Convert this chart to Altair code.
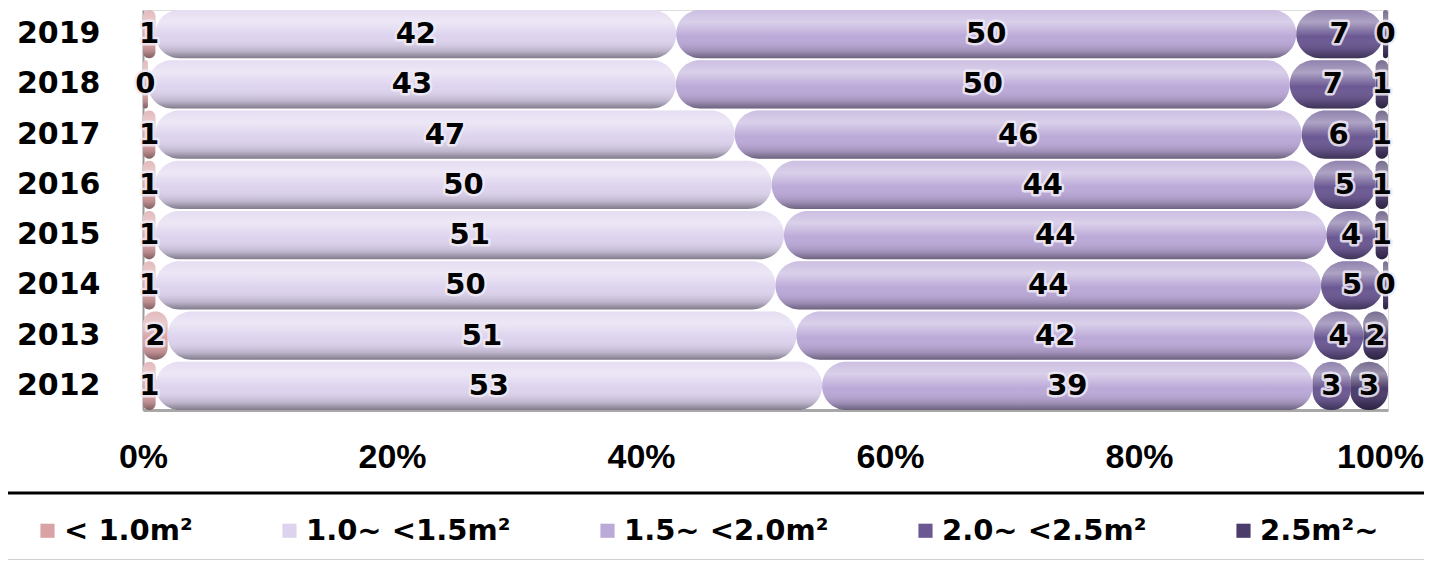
import altair as alt
import pandas as pd

years = ["2019", "2018", "2017", "2016", "2015", "2014", "2013", "2012"]
cats = ["< 1.0m²", "1.0~ <1.5m²", "1.5~ <2.0m²", "2.0~ <2.5m²", "2.5m²~"]
lt10 = [1, 0.4, 1, 1, 1, 1, 2, 1]
r10_15 = [42, 43, 47, 50, 51, 50, 51, 53]
r15_20 = [50, 50, 46, 44, 44, 44, 42, 39]
r20_25 = [7, 7, 6, 5, 4, 5, 4, 3]
ge25 = [0.4, 1, 1, 1, 1, 0.4, 2, 3]
colors = ["#d9a3a6", "#ddd3ee", "#bba9d8", "#6b5893", "#4b3c6b"]
x_ticks = [0, 0.2, 0.4, 0.6, 0.8, 1.0]

series = [lt10, r10_15, r15_20, r20_25, ge25]
rows = []
for ci, (cat, vals) in enumerate(zip(cats, series)):
    for y, v in zip(years, vals):
        rows.append({"year": y, "cat": cat, "order": ci, "value": v})
df = pd.DataFrame(rows)

base = alt.Chart(df).transform_stack(
    stack="value", groupby=["year"], as_=["x0", "x1"],
    sort=[alt.SortField("order")], offset="normalize"
).transform_calculate(xm="(datum.x0 + datum.x1) / 2")

yenc = alt.Y("year:N", sort=years,
             scale=alt.Scale(paddingInner=0.04, paddingOuter=0.0),
             axis=alt.Axis(title=None, ticks=False, domain=True, domainColor="#9a9a9a",
                           domainWidth=2, labelFont="DejaVu Sans", labelFontWeight="bold",
                           labelFontSize=30, labelColor="black", labelPadding=43))
xenc = alt.X("x0:Q", scale=alt.Scale(domain=[0, 1], nice=False),
             axis=alt.Axis(title=None, values=x_ticks, format="%", grid=False, ticks=False,
                           domainColor="#a8a8a8", domainWidth=3, labelFont="Liberation Sans",
                           labelFontWeight="bold", labelFontSize=34, labelColor="black",
                           labelPadding=30, labelFlush=False,
                           labelOffset={"condition": {"test": "datum.value >= 1", "value": -8},
                                        "value": 0}))

bars = base.mark_bar(cornerRadius=24).encode(
    y=yenc, x=xenc, x2="x1:Q",
    color=alt.Color("cat:N", scale=alt.Scale(domain=cats, range=colors),
                    legend=alt.Legend(title=None, orient="none", legendX=-110, legendY=506,
                                      direction="horizontal", columns=5, columnPadding=82,
                                      symbolType="square", symbolSize=200, symbolStrokeWidth=0,
                                      labelFont="DejaVu Sans", labelFontWeight="bold",
                                      labelFontSize=29, labelColor="black", labelOffset=2,
                                      labelLimit=400)),
    order=alt.Order("order:Q"),
)

shine = base.mark_bar(
    cornerRadius=24,
    fill=alt.Gradient(
        gradient="linear", x1=0, x2=0, y1=0, y2=1,
        stops=[
            alt.GradientStop(color="rgba(255,255,255,0.25)", offset=0),
            alt.GradientStop(color="rgba(255,255,255,0.45)", offset=0.25),
            alt.GradientStop(color="rgba(255,255,255,0.0)", offset=0.55),
            alt.GradientStop(color="rgba(0,0,0,0.15)", offset=0.85),
            alt.GradientStop(color="rgba(0,0,0,0.42)", offset=1),
        ],
    ),
).encode(y=alt.Y("year:N", sort=years), x="x0:Q", x2="x1:Q")

halo = base.mark_text(font="DejaVu Sans", fontWeight="bold", fontSize=29,
                      stroke="#efebf5", strokeWidth=5, strokeJoin="round",
                      fill="#efebf5", strokeOpacity=0.85).encode(
    y=alt.Y("year:N", sort=years), x="xm:Q", text=alt.Text("value:Q", format=".0f"))
labels = base.mark_text(font="DejaVu Sans", fontWeight="bold", fontSize=29,
                        color="black").encode(
    y=alt.Y("year:N", sort=years), x="xm:Q", text=alt.Text("value:Q", format=".0f"))

line_df = pd.DataFrame({"k": [0]})
black_line = alt.Chart(line_df).mark_rule(color="black", strokeWidth=3).encode(
    x=alt.value(-135), x2=alt.value(1281), y=alt.value(483))
gray_line = alt.Chart(line_df).mark_rule(color="#cfcfcf", strokeWidth=2).encode(
    x=alt.value(-135), x2=alt.value(1281), y=alt.value(550))

chart = alt.layer(bars, shine, halo, labels, black_line, gray_line).properties(
    width=1245, height=400,
    autosize=alt.AutoSizeParams(type="none"),
    padding={"left": 135, "top": 2, "right": 36, "bottom": 150},
).configure_view(stroke=None).configure(background="white")

chart.save("out.html", embed_options={"renderer": "svg", "actions": False})
